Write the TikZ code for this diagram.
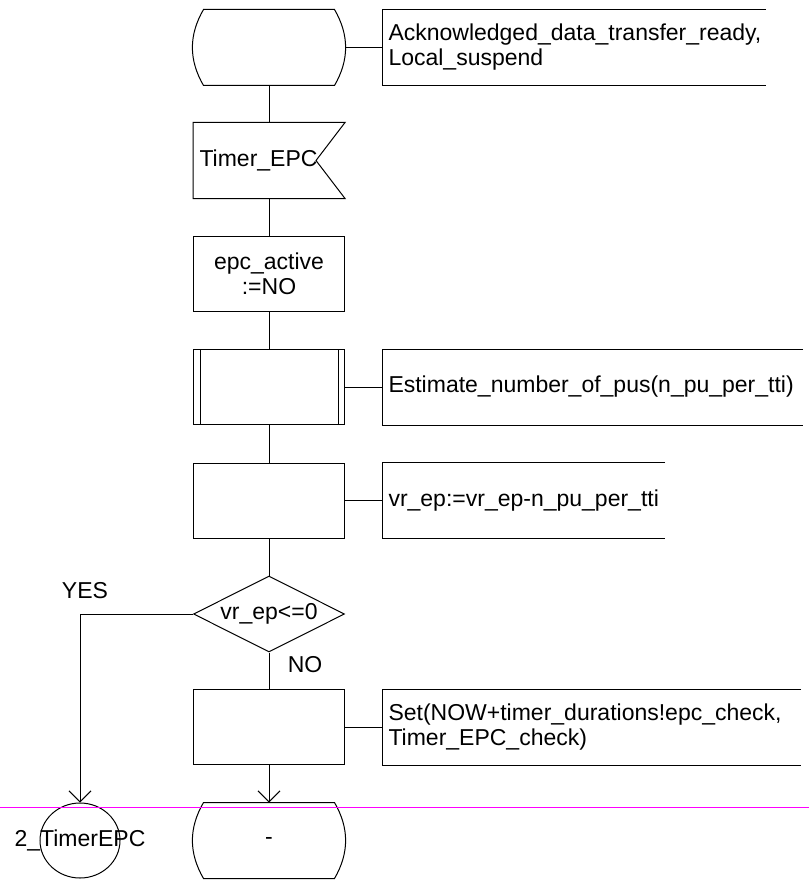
\documentclass[tikz,border=0pt]{standalone}
\usepackage{fontspec}
\setmainfont{Liberation Sans}
\usetikzlibrary{arrows.meta}
\usetikzlibrary{shapes.geometric}
\exhyphenpenalty=10000
\definecolor{break-magenta}{RGB}{255, 0, 255}

\tikzset{
    sdl/.style={rectangle, minimum width=151pt, minimum height=75pt, inner sep=0pt},
    task/.style={sdl, draw, align=center},
    cmt/.style={rectangle, anchor=west, minimum height=75pt, inner xsep=6pt, inner ysep=0pt, align=left},
    flow/.style={-{Straight Barb[length=11pt, width=22pt]}},
}

\begin{document}
\begin{tikzpicture}[x=1pt, y=-1pt, line width=1pt, font=\fontsize{23}{25}\selectfont]
    \useasboundingbox (0, 0) rectangle (809, 880);

    % main column
    \node[sdl] (start) at (269, 47.5) {};
    \draw ([xshift=10.5pt]start.north west) -- ([xshift=-10.5pt]start.north east) to[out=-60, in=60] ([xshift=-10.5pt]start.south east) -- ([xshift=10.5pt]start.south west) to[out=120, in=-120] ([xshift=10.5pt]start.north west) -- cycle;
    \node[sdl, text width=139pt, inner xsep=6pt, align=left] (tin) at (269, 160.5) {Timer\_EPC};
    \draw (tin.north west) -- (tin.north east) -- ([xshift=-29pt]tin.east) -- (tin.south east) -- (tin.south west) -- cycle;
    \node[task] (active) at (269, 273.5) {epc\_active\\:=NO};
    \node[task] (est) at (269, 387) {};
    \draw ([xshift=7pt]est.north west) -- ([xshift=7pt]est.south west)
          ([xshift=-7pt]est.north east) -- ([xshift=-7pt]est.south east);
    \node[task] (vrupd) at (269, 500.5) {};
    \node[draw, diamond, aspect=2, minimum width=151pt, minimum height=76pt, inner sep=0pt] (check) at (269, 614) {vr\_ep<=0};
    \node[task] (settimer) at (269, 727) {};
    \node[sdl] (stop) at (269, 840.5) {-};
    \draw ([xshift=10.5pt]stop.north west) -- ([xshift=-10.5pt]stop.north east) to[out=-60, in=60] ([xshift=-10.5pt]stop.south east) -- ([xshift=10.5pt]stop.south west) to[out=120, in=-120] ([xshift=10.5pt]stop.north west) -- cycle;
    \node[draw, ellipse, minimum width=80pt, minimum height=75pt, inner sep=0pt, label={center:2\_TimerEPC}] (jump) at (80, 840.5) {};

    % comments
    \node[cmt, text width=371pt] (c-start) at (382, 47.5) {Acknowledged\_data\_transfer\_ready,\\Local\_suspend};
    \node[cmt, text width=408pt] (c-est) at (382, 387) {Estimate\_number\_of\_pus(n\_pu\_per\_tti)};
    \node[cmt, text width=270pt] (c-vrupd) at (382, 500.5) {vr\_ep:=vr\_ep-n\_pu\_per\_tti};
    \node[cmt, text width=406pt] (c-set) at (382, 727) {Set(NOW+timer\_durations!epc\_check,\\Timer\_EPC\_check)};
    \draw (c-start.north east) -- (c-start.north west) -- (c-start.south west) -- (c-start.south east);
    \draw (c-est.north east) -- (c-est.north west) -- (c-est.south west) -- (c-est.south east);
    \draw (c-vrupd.north east) -- (c-vrupd.north west) -- (c-vrupd.south west) -- (c-vrupd.south east);
    \draw (c-set.north east) -- (c-set.north west) -- (c-set.south west) -- (c-set.south east);

    % connections
    \draw (start) -- (tin);
    \draw (tin) -- (active);
    \draw (active) -- (est);
    \draw (est) -- (vrupd);
    \draw (vrupd) -- (check);
    \draw (check) -- (settimer);
    \draw[flow] (settimer) -- (stop);
    \draw[flow] (check.west) -| (jump.north);
    \draw (start.east) -- (c-start.west);
    \draw (est.east) -- (c-est.west);
    \draw (vrupd.east) -- (c-vrupd.west);
    \draw (settimer.east) -- (c-set.west);
    \node (yes) at (85, 591) {YES};
    \node (no) at (305, 665) {NO};

    % page break
    \draw[break-magenta] (0, 807) -- (809, 807);
\end{tikzpicture}
\end{document}
